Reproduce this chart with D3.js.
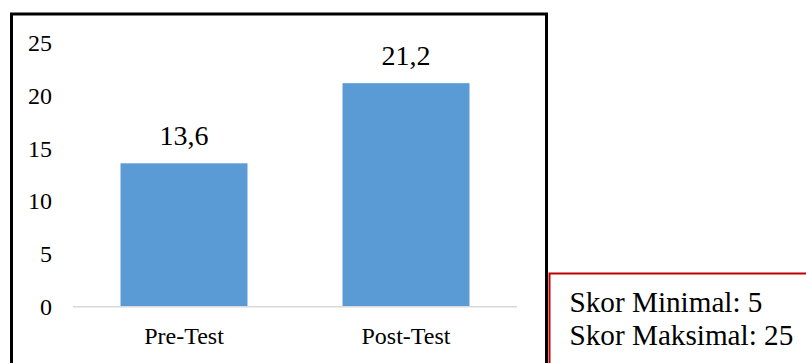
<!DOCTYPE html>
<html>
<head>
<meta charset="utf-8">
<script src="https://cdn.jsdelivr.net/npm/d3@7"></script>
<style>
  html, body { margin: 0; padding: 0; background: #ffffff; }
  svg { display: block; }
  svg text { font-family: 'Liberation Serif', Tinos, Times, 'DejaVu Serif', serif; fill: #000; }
</style>
</head>
<body>
<svg id="chart" width="806" height="363"></svg>
<script>
// Test scores
const categories = ["Pre-Test", "Post-Test"];
const scores = [13.6, 21.2];
const valueLabels = ["13,6", "21,2"];
const yTicks = [0, 5, 10, 15, 20, 25];
const noteLines = ["Skor Minimal: 5", "Skor Maksimal: 25"];

const serif = "'Liberation Serif', Tinos, Times, 'DejaVu Serif', serif";
const svg = d3.select("#chart");

// Outer frame of the chart
svg.append("rect")
  .attr("x", 11.5).attr("y", 14)
  .attr("width", 535).attr("height", 360)
  .attr("fill", "#fff")
  .attr("stroke", "#000").attr("stroke-width", 3);

const plot = { left: 73, right: 517, top: 43.1, bottom: 306.7 };

const x = d3.scaleBand()
  .domain(categories)
  .range([plot.left, plot.right])
  .paddingInner(0.428)
  .paddingOuter(0.214);

const y = d3.scaleLinear()
  .domain([0, 25])
  .range([plot.bottom, plot.top]);

// Bars
svg.append("g").selectAll("rect")
  .data(categories)
  .join("rect")
  .attr("x", d => x(d))
  .attr("width", x.bandwidth())
  .attr("y", (d, i) => y(scores[i]))
  .attr("height", (d, i) => y(0) - y(scores[i]))
  .attr("fill", "#5b9bd5");

// Baseline
svg.append("line")
  .attr("x1", plot.left).attr("x2", plot.right)
  .attr("y1", y(0)).attr("y2", y(0))
  .attr("stroke", "#d9d9d9").attr("stroke-width", 1.5);

// Y axis labels (no axis line)
const yAxis = d3.axisLeft(y).tickValues(yTicks).tickSize(0).tickPadding(0)
  .tickFormat(d3.format("d"));
const gy = svg.append("g").attr("transform", "translate(52,0)").call(yAxis)
  .attr("font-family", serif).attr("font-size", 24);
gy.select(".domain").remove();
gy.selectAll("text")
  .attr("dy", "0.32em")
  .attr("fill", "#000");

// X axis labels
const xAxis = d3.axisBottom(x).tickSize(0).tickPadding(0);
const gx = svg.append("g").attr("transform", `translate(0,${y(0)})`).call(xAxis)
  .attr("font-family", serif).attr("font-size", 24);
gx.select(".domain").remove();
gx.selectAll("text")
  .attr("dy", null)
  .attr("y", 37)
  .attr("fill", "#000");

// Value labels
svg.append("g").attr("font-family", serif).selectAll("text")
  .data(categories)
  .join("text")
  .attr("x", d => x(d) + x.bandwidth() / 2)
  .attr("y", (d, i) => y(scores[i]) - 18.5)
  .attr("text-anchor", "middle")
  .attr("font-size", 28)
  .text((d, i) => valueLabels[i]);

// Note box with score range
svg.append("rect")
  .attr("x", 549.5).attr("y", 273.5)
  .attr("width", 270).attr("height", 120)
  .attr("fill", "#fff")
  .attr("stroke", "#c00000").attr("stroke-width", 2);

svg.append("g").attr("font-family", serif).selectAll("text")
  .data(noteLines)
  .join("text")
  .attr("x", 569.5)
  .attr("y", (d, i) => 311.5 + i * 33.5)
  .attr("font-size", 29.2)
  .text(d => d);
</script>
</body>
</html>
